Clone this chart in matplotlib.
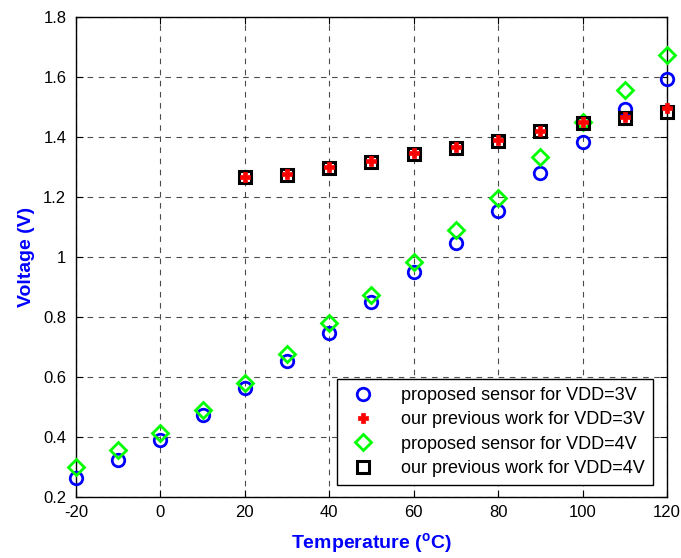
import matplotlib
matplotlib.use('Agg')
import matplotlib.pyplot as plt
import numpy as np

plt.rcParams['font.family'] = ['Liberation Sans', 'DejaVu Sans']
plt.rcParams['axes.unicode_minus'] = False

# temperatures
temp_all = [-20, -10, 0, 10, 20, 30, 40, 50, 60, 70, 80, 90, 100, 110, 120]
temp_prev = [20, 30, 40, 50, 60, 70, 80, 90, 100, 110, 120]

proposed_3v = [0.265, 0.323, 0.39, 0.475, 0.565, 0.653, 0.747, 0.85, 0.95, 1.047, 1.153, 1.279, 1.382, 1.492, 1.594]
proposed_4v = [0.30, 0.356, 0.413, 0.491, 0.58, 0.677, 0.78, 0.873, 0.983, 1.09, 1.197, 1.333, 1.45, 1.556, 1.672]
previous_3v = [1.267, 1.277, 1.30, 1.32, 1.346, 1.366, 1.39, 1.42, 1.45, 1.468, 1.497]
previous_4v = [1.267, 1.274, 1.297, 1.317, 1.343, 1.363, 1.387, 1.42, 1.446, 1.465, 1.484]

labels = ['proposed sensor for VDD=3V', 'our previous work for VDD=3V',
          'proposed sensor for VDD=4V', 'our previous work for VDD=4V']

fig = plt.figure(figsize=(6.81, 5.58), dpi=100)
ax = fig.add_axes([0.1116, 0.1093, 0.8678, 0.8602])

ax.plot(temp_all, proposed_3v, linestyle='none', marker='o', markersize=9, clip_on=False, zorder=5,
        markerfacecolor='none', markeredgecolor='#0000ff', markeredgewidth=2, label=labels[0])
ax.plot(temp_prev, previous_3v, linestyle='none', marker='P', markersize=7, clip_on=False, zorder=7,
        color='#ff0000', markeredgewidth=0.5, label=labels[1])
ax.plot(temp_all, proposed_4v, linestyle='none', marker='D', markersize=8, clip_on=False, zorder=5,
        markerfacecolor='none', markeredgecolor='#00ff00', markeredgewidth=2, label=labels[2])
ax.plot(temp_prev, previous_4v, linestyle='none', marker='s', markersize=9, clip_on=False, zorder=6,
        markerfacecolor='none', markeredgecolor='black', markeredgewidth=2.2, label=labels[3])

ax.set_xlim(-20, 120)
ax.set_ylim(0.2, 1.8)
ax.set_xticks(np.arange(-20, 121, 20))
ax.set_yticks(np.arange(0.2, 1.81, 0.2))
ax.set_yticklabels(['0.2', '0.4', '0.6', '0.8', '1', '1.2', '1.4', '1.6', '1.8'])
ax.tick_params(direction='in', top=True, right=True, labelsize=12, length=5)
ax.tick_params(axis='y', pad=7)
ax.tick_params(axis='x', pad=6)
ax.grid(True, color='black', linestyle=(0, (5, 5)), linewidth=0.8, alpha=0.7)
for s in ax.spines.values():
    s.set_linewidth(1.0)

ax.set_xlabel('Temperature ($\\mathregular{^{o}}$C)', color='#0000ff', fontsize=14, fontweight='bold', labelpad=8)
ax.set_ylabel('Voltage (V)', color='#0000ff', fontsize=14, fontweight='bold', labelpad=6)

leg = ax.legend(loc='lower right', fontsize=13, fancybox=False, edgecolor='black',
                framealpha=1, borderpad=0.45, labelspacing=0.4, handletextpad=1.1,
                borderaxespad=0, bbox_to_anchor=(0.976, 0.025))
leg.get_frame().set_linewidth(1.0)
leg.set_zorder(10)

fig.savefig('out.png', dpi=100)
